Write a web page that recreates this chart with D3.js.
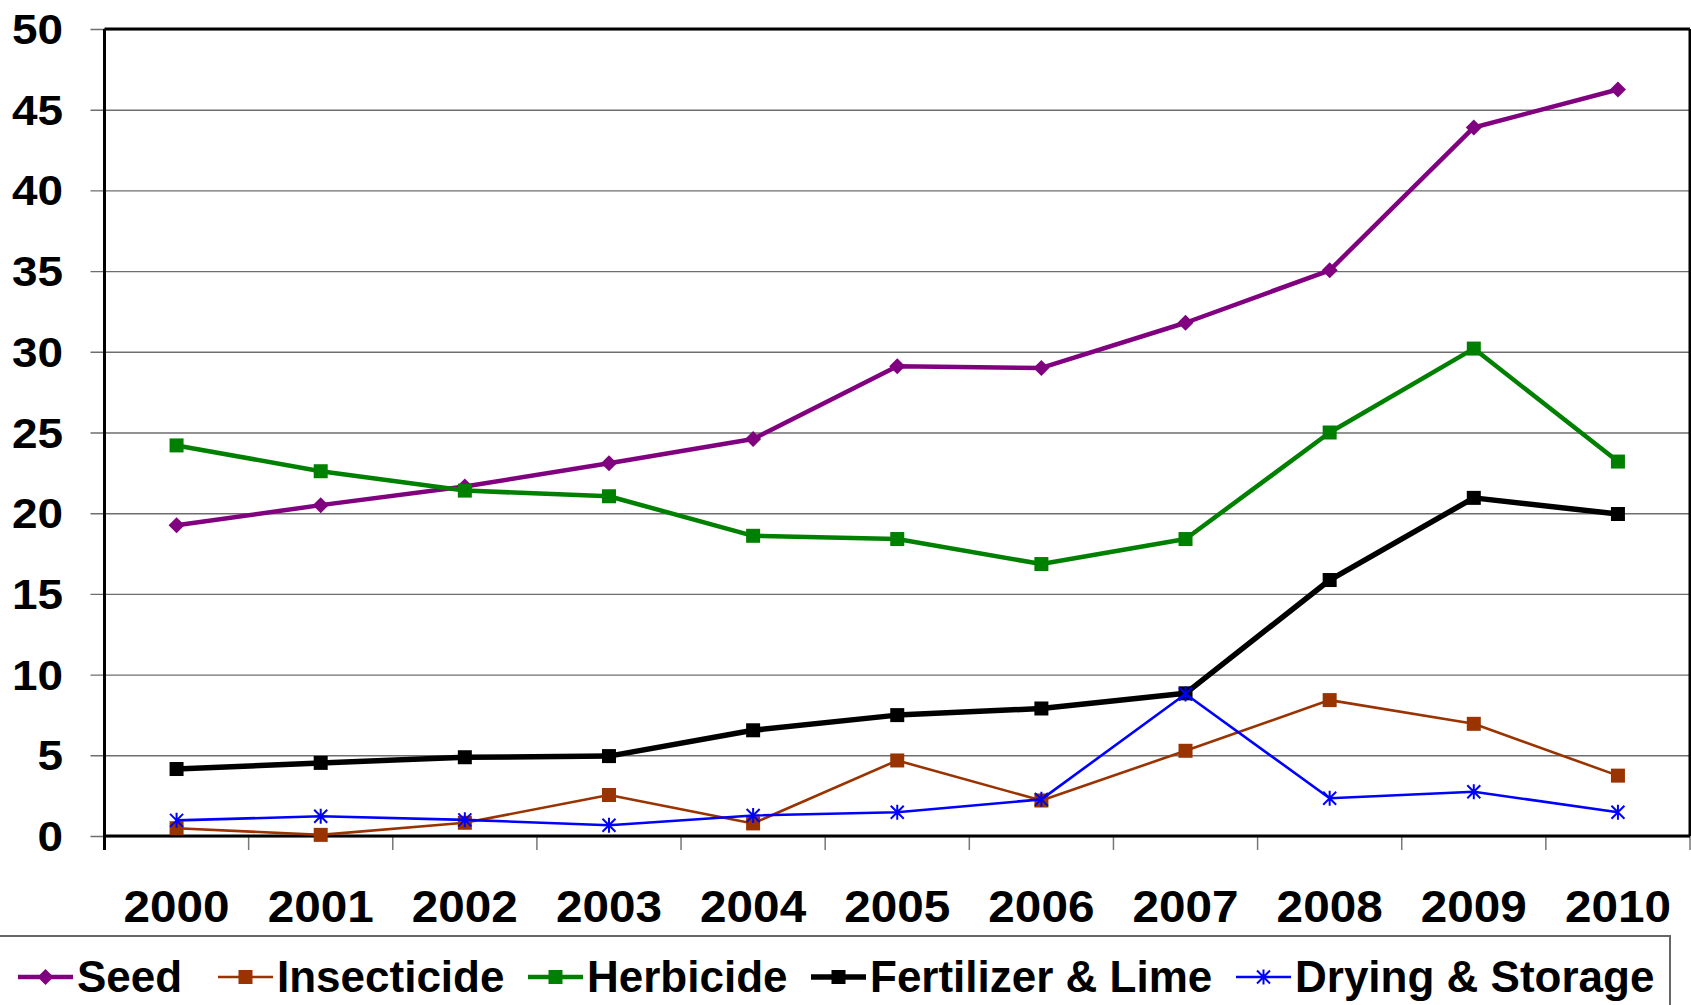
<!DOCTYPE html>
<html>
<head>
<meta charset="utf-8">
<script src="https://cdn.jsdelivr.net/npm/d3@7"></script>
<style>
  html, body { margin: 0; padding: 0; background: #fff; overflow: hidden; }
  svg { display: block; font-family: "Liberation Sans", Arial, sans-serif; font-weight: bold; }
</style>
</head>
<body>
<svg id="chart" width="1691" height="1005"></svg>
<script>
// Input costs per year
const years = ["2000", "2001", "2002", "2003", "2004", "2005", "2006", "2007", "2008", "2009", "2010"];
const seed        = [19.25, 20.5, 21.65, 23.1, 24.6, 29.1, 29.0, 31.8, 35.05, 43.9, 46.25];
const insecticide = [0.48, 0.07, 0.82, 2.54, 0.78, 4.68, 2.2, 5.28, 8.42, 6.95, 3.74];
const herbicide   = [24.2, 22.6, 21.4, 21.05, 18.6, 18.4, 16.85, 18.4, 25.0, 30.2, 23.2];
const fertilizer  = [4.15, 4.53, 4.88, 4.95, 6.55, 7.49, 7.9, 8.84, 15.86, 20.95, 19.95];
const drying      = [0.97, 1.22, 1.0, 0.67, 1.27, 1.47, 2.27, 8.8, 2.34, 2.74, 1.47];
const yTicks = [0, 5, 10, 15, 20, 25, 30, 35, 40, 45, 50];
const seriesNames = ["Seed", "Insecticide", "Herbicide", "Fertilizer & Lime", "Drying & Storage"];

const series = [
  { name: seriesNames[0], values: seed,        color: "#800080", width: 4.5, marker: "diamond" },
  { name: seriesNames[1], values: insecticide, color: "#993300", width: 2.6, marker: "square" },
  { name: seriesNames[2], values: herbicide,   color: "#008000", width: 4.5, marker: "square" },
  { name: seriesNames[3], values: fertilizer,  color: "#000000", width: 5.5, marker: "square" },
  { name: seriesNames[4], values: drying,      color: "#0000ff", width: 2.6, marker: "star" }
];

const svg = d3.select("#chart");
const plot = { left: 104.5, right: 1690, top: 29, bottom: 836 };

const x = d3.scaleBand().domain(years).range([plot.left, plot.right]).padding(0);
const y = d3.scaleLinear().domain([0, 50]).range([plot.bottom, plot.top]);

// Horizontal gridlines with small outer ticks on the left
const yAxis = d3.axisLeft(y).tickValues(yTicks).tickSize(plot.right - plot.left + 14).tickFormat("");
const gy = svg.append("g").attr("transform", `translate(${plot.right},0)`).call(yAxis);
gy.select(".domain").remove();
gy.selectAll(".tick line").attr("stroke", "#6e6e6e").attr("stroke-width", 1.4);

// Y tick labels (slightly wide bold digits)
svg.append("g").selectAll("text").data(yTicks).join("text")
  .attr("transform", d => `translate(63,${y(d) + 15}) scale(1.08,1)`)
  .attr("text-anchor", "end")
  .attr("font-size", 42.5)
  .attr("fill", "#000")
  .text(d => d);

// X tick marks at category boundaries
const bounds = years.map(d => x(d)).concat([x(years[years.length - 1]) + x.bandwidth()]);
svg.append("g").selectAll("line").data(bounds.slice(1)).join("line")
  .attr("x1", d => d).attr("x2", d => d)
  .attr("y1", plot.bottom).attr("y2", plot.bottom + 14)
  .attr("stroke", "#777").attr("stroke-width", 1.5);

// X labels
svg.append("g").selectAll("text").data(years).join("text")
  .attr("transform", d => `translate(${x(d) + x.bandwidth() / 2},922) scale(1.06,1)`)
  .attr("text-anchor", "middle")
  .attr("font-size", 45)
  .attr("fill", "#000")
  .text(d => d);

// Plot frame
svg.append("line").attr("x1", plot.left).attr("x2", plot.left).attr("y1", plot.top).attr("y2", plot.bottom + 14)
  .attr("stroke", "#000").attr("stroke-width", 3);
svg.append("line").attr("x1", plot.left).attr("x2", plot.right).attr("y1", plot.bottom).attr("y2", plot.bottom)
  .attr("stroke", "#000").attr("stroke-width", 3);
svg.append("line").attr("x1", plot.left).attr("x2", plot.right).attr("y1", plot.top).attr("y2", plot.top)
  .attr("stroke", "#000").attr("stroke-width", 3);
svg.append("line").attr("x1", plot.right).attr("x2", plot.right).attr("y1", plot.top).attr("y2", plot.bottom)
  .attr("stroke", "#000").attr("stroke-width", 3);

function drawMarker(g, type, color) {
  if (type === "diamond") {
    g.append("path").attr("d", "M0,-8L8,0L0,8L-8,0Z").attr("fill", color);
  } else if (type === "square") {
    g.append("rect").attr("x", -7).attr("y", -7).attr("width", 14).attr("height", 14).attr("fill", color);
  } else if (type === "star") {
    g.append("path").attr("d", "M0,-7.5V7.5M-6.5,-6.5L6.5,6.5M-6.5,6.5L6.5,-6.5")
      .attr("stroke", color).attr("stroke-width", 2).attr("fill", "none");
  }
}

const line = d3.line().x((d, i) => x(years[i]) + x.bandwidth() / 2).y(d => y(d));

series.forEach(s => {
  const g = svg.append("g");
  g.append("path").datum(s.values).attr("d", line)
    .attr("fill", "none").attr("stroke", s.color).attr("stroke-width", s.width)
    .attr("stroke-linejoin", "round");
  s.values.forEach((v, i) => {
    const m = g.append("g").attr("transform", `translate(${x(years[i]) + x.bandwidth() / 2},${y(v)})`);
    drawMarker(m, s.marker, s.color);
  });
});

// Legend: one row of entries inside a box along the bottom edge
svg.append("rect").attr("x", -3).attr("y", 936).attr("width", 1673).attr("height", 100)
  .attr("fill", "none").attr("stroke", "#666").attr("stroke-width", 2);

const legendY = 977;
const legendStarts = [18, 218, 528, 811, 1236];
series.forEach((s, i) => {
  const lx = legendStarts[i];
  const g = svg.append("g");
  g.append("line").attr("x1", lx).attr("x2", lx + 55).attr("y1", legendY).attr("y2", legendY)
    .attr("stroke", s.color).attr("stroke-width", s.width);
  const m = g.append("g").attr("transform", `translate(${lx + 27.5},${legendY})`);
  drawMarker(m, s.marker, s.color);
  g.append("text").attr("x", lx + 59).attr("y", legendY + 15)
    .attr("font-size", 44).attr("fill", "#000").text(s.name);
});
</script>
</body>
</html>
